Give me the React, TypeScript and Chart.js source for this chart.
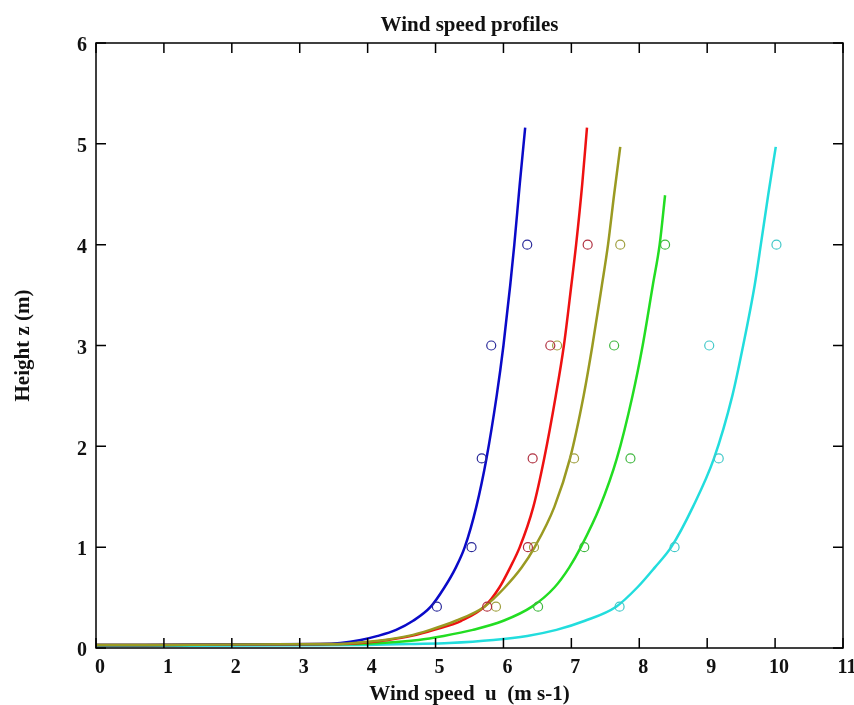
import React, { useEffect, useRef } from "react";
import { Chart, registerables } from "chart.js";

Chart.register(...registerables);

// Observation heights (m)
const obsHeights = [0.41, 1.0, 1.88, 3.0, 4.0];
// Observed wind speeds (m/s)
const blueObs = [5.02, 5.53, 5.68, 5.82, 6.35];
const redObs = [5.76, 6.36, 6.43, 6.69, 7.24];
const oliveObs = [5.89, 6.45, 7.04, 6.79, 7.72];
const greenObs = [6.51, 7.19, 7.87, 7.63, 8.38];
const cyanObs = [7.71, 8.52, 9.17, 9.03, 10.02];

// Fitted profile curves (u, z)
const blueCurveU = [0, 3.3, 3.6, 3.9, 4.15, 4.42, 4.67, 4.93, 5.13, 5.3, 5.43, 5.6, 5.75, 5.9, 6.0, 6.1, 6.16, 6.24, 6.32];
const blueCurveZ = [0.03, 0.04, 0.05, 0.08, 0.12, 0.18, 0.27, 0.41, 0.6, 0.8, 1.0, 1.4, 1.88, 2.5, 3.0, 3.6, 4.0, 4.6, 5.16];
const redCurveU = [0, 3.6, 3.9, 4.3, 4.65, 4.98, 5.38, 5.72, 5.94, 6.1, 6.24, 6.44, 6.6, 6.77, 6.89, 7.0, 7.07, 7.16, 7.23];
const redCurveZ = [0.03, 0.04, 0.05, 0.08, 0.12, 0.18, 0.27, 0.41, 0.6, 0.8, 1.0, 1.4, 1.88, 2.5, 3.0, 3.6, 4.0, 4.6, 5.16];
const oliveCurveU = [0, 3.5, 3.8, 4.25, 4.6, 4.92, 5.3, 5.72, 6.02, 6.27, 6.46, 6.75, 6.98, 7.18, 7.31, 7.45, 7.54, 7.63, 7.72];
const oliveCurveZ = [0.03, 0.04, 0.05, 0.08, 0.12, 0.18, 0.27, 0.41, 0.6, 0.8, 1.0, 1.4, 1.88, 2.5, 3.0, 3.6, 4.0, 4.5, 4.97];
const greenCurveU = [0, 3.8, 4.2, 4.75, 5.12, 5.55, 6.0, 6.42, 6.75, 6.97, 7.14, 7.42, 7.67, 7.9, 8.05, 8.2, 8.3, 8.38];
const greenCurveZ = [0.03, 0.04, 0.05, 0.08, 0.12, 0.18, 0.27, 0.41, 0.6, 0.8, 1.0, 1.4, 1.88, 2.5, 3.0, 3.6, 4.0, 4.49];
const cyanCurveU = [0, 4.0, 4.7, 5.2, 5.85, 6.35, 6.78, 7.2, 7.66, 7.97, 8.23, 8.47, 8.79, 9.1, 9.37, 9.53, 9.7, 9.79, 9.9, 10.01];
const cyanCurveZ = [0.02, 0.03, 0.04, 0.05, 0.08, 0.12, 0.18, 0.27, 0.41, 0.6, 0.8, 1.0, 1.4, 1.88, 2.5, 3.0, 3.6, 4.0, 4.5, 4.97];

const xTicks = [0, 1, 2, 3, 4, 5, 6, 7, 8, 9, 10, 11];
const yTicks = [0, 1, 2, 3, 4, 5, 6];

const SERIF = '"Liberation Serif", "Times New Roman", serif';

const zip = (xs: number[], ys: number[]) => xs.map((x, i) => ({ x, y: ys[i] }));

const frameTicks = {
  id: "frameTicks",
  afterDraw(chart: any) {
    const { ctx, chartArea: a, scales } = chart;
    const len = 10;
    ctx.save();
    ctx.strokeStyle = "#000";
    ctx.lineWidth = 1.5;
    ctx.strokeRect(a.left, a.top, a.right - a.left, a.bottom - a.top);
    ctx.beginPath();
    xTicks.forEach((v) => {
      const px = scales.x.getPixelForValue(v);
      ctx.moveTo(px, a.bottom);
      ctx.lineTo(px, a.bottom - len);
      ctx.moveTo(px, a.top);
      ctx.lineTo(px, a.top + len);
    });
    yTicks.forEach((v) => {
      const py = scales.y.getPixelForValue(v);
      ctx.moveTo(a.left, py);
      ctx.lineTo(a.left + len, py);
      ctx.moveTo(a.right, py);
      ctx.lineTo(a.right - len, py);
    });
    ctx.stroke();
    ctx.restore();
  },
};

const curve = (label: string, u: number[], z: number[], color: string) => ({
  label,
  data: zip(u, z),
  showLine: true,
  borderColor: color,
  borderWidth: 2.5,
  pointRadius: 0,
  cubicInterpolationMode: "monotone" as const,
  fill: false,
});

const obs = (label: string, u: number[], color: string) => ({
  label,
  data: zip(u, obsHeights),
  showLine: false,
  borderColor: color,
  backgroundColor: "rgba(0,0,0,0)",
  pointBorderColor: color,
  pointBackgroundColor: "rgba(0,0,0,0)",
  pointBorderWidth: 1.2,
  pointRadius: 4.5,
});

export default function App() {
  const ref = useRef<HTMLCanvasElement | null>(null);
  useEffect(() => {
    if (!ref.current) return;
    const chart = new Chart(ref.current, {
      type: "scatter",
      data: {
        datasets: [
          obs("blue obs", blueObs, "#2a2a9a"),
          obs("red obs", redObs, "#b03040"),
          obs("olive obs", oliveObs, "#a0a040"),
          obs("green obs", greenObs, "#40b840"),
          obs("cyan obs", cyanObs, "#40c8c8"),
          curve("olive", oliveCurveU, oliveCurveZ, "#9a9a22"),
          curve("blue", blueCurveU, blueCurveZ, "#0a0ac8"),
          curve("red", redCurveU, redCurveZ, "#ee1111"),
          curve("green", greenCurveU, greenCurveZ, "#22dd22"),
          curve("cyan", cyanCurveU, cyanCurveZ, "#22dddd"),
        ],
      },
      options: {
        animation: false,
        responsive: false,
        devicePixelRatio: 1,
        layout: { padding: { top: 0, right: 11, left: 0, bottom: 0 } },
        plugins: {
          legend: { display: false },
          tooltip: { enabled: false },
          title: {
            display: true,
            text: "Wind speed profiles",
            fullSize: false,
            color: "#111",
            font: { family: SERIF, size: 21, weight: "bold" },
            padding: { top: 13, bottom: 4.8 },
          },
        },
        scales: {
          x: {
            type: "linear",
            min: 0,
            max: 11,
            afterFit: (s: any) => {
              s.height = 57;
              s.paddingLeft = 0;
              s.paddingRight = 0;
            },
            afterBuildTicks: (s: any) => {
              s.ticks = xTicks.map((v) => ({ value: v }));
            },
            grid: { display: false, drawTicks: false },
            border: { display: false },
            ticks: {
              color: "#111",
              padding: 8,
              labelOffset: 4,
              font: { family: SERIF, size: 20, weight: "bold" },
            },
            title: {
              display: true,
              text: "Wind speed  u  (m s-1)",
              color: "#111",
              font: { family: SERIF, size: 21, weight: "bold" },
              padding: { top: 0, bottom: -2 },
            },
          },
          y: {
            type: "linear",
            min: 0,
            max: 6,
            afterFit: (s: any) => {
              s.width = 96;
              s.paddingTop = 0;
              s.paddingBottom = 0;
            },
            afterBuildTicks: (s: any) => {
              s.ticks = yTicks.map((v) => ({ value: v }));
            },
            grid: { display: false, drawTicks: false },
            border: { display: false },
            ticks: {
              color: "#111",
              padding: 9,
              labelOffset: 3,
              font: { family: SERIF, size: 20, weight: "bold" },
            },
            title: {
              display: true,
              text: "Height z (m)",
              color: "#111",
              font: { family: SERIF, size: 21, weight: "bold" },
              padding: { top: 11, bottom: 0 },
            },
          },
        },
      },
      plugins: [frameTicks],
    });
    return () => chart.destroy();
  }, []);
  return (
    <div style={{ position: "absolute", left: 0, top: 0, width: 854, height: 705, background: "#fff" }}>
      <canvas ref={ref} width={854} height={705} style={{ width: 854, height: 705 }} />
    </div>
  );
}
